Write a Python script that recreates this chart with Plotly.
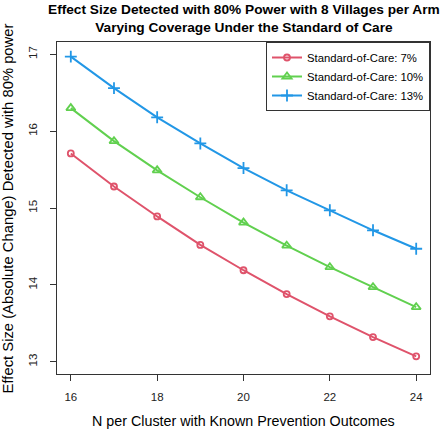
import plotly.graph_objects as go

n_per_cluster = [16, 17, 18, 19, 20, 21, 22, 23, 24]
soc_7 = [15.71, 15.28, 14.89, 14.52, 14.19, 13.88, 13.59, 13.32, 13.07]
soc_10 = [16.30, 15.87, 15.49, 15.14, 14.81, 14.51, 14.23, 13.97, 13.71]
soc_13 = [16.97, 16.56, 16.18, 15.84, 15.52, 15.23, 14.97, 14.71, 14.47]
series_names = ["Standard-of-Care: 7%", "Standard-of-Care: 10%", "Standard-of-Care: 13%"]
x_ticks = [16, 18, 20, 22, 24]
y_ticks = [13, 14, 15, 16, 17]

FONT = "Liberation Sans, Arial, Helvetica, sans-serif"
colors = ["#DF536B", "#61D04F", "#2297E6"]
symbols = ["circle-open", "triangle-up-open", "cross-thin-open"]
sizes = [6, 8, 8.5]

fig = go.Figure()
for vals, name, c, s, sz in zip([soc_7, soc_10, soc_13], series_names, colors, symbols, sizes):
    fig.add_trace(go.Scatter(
        x=n_per_cluster, y=vals, name=name, mode="lines+markers",
        line=dict(color=c, width=2),
        marker=dict(symbol=s, size=sz, color=c, line=dict(color=c, width=1.8)),
    ))

axis_common = dict(
    showline=True, linecolor="#333333", linewidth=1, mirror=True,
    ticks="outside", ticklen=6, tickcolor="#333333", tickwidth=1,
    showgrid=False, zeroline=False,
    tickfont=dict(family=FONT, size=11.5, color="#222222"),
)

fig.update_layout(
    width=440, height=432,
    margin=dict(l=56.7, r=9.5, t=42.3, b=58.3),
    paper_bgcolor="white", plot_bgcolor="white",
    font=dict(family=FONT, color="#000000"),
    xaxis=dict(range=[15.68, 24.32], tickvals=x_ticks, ticklabelstandoff=6, **axis_common),
    yaxis=dict(range=[12.84, 17.16], tickvals=y_ticks, tickangle=-90, ticklabelstandoff=8, **axis_common),
    showlegend=True,
    legend=dict(
        x=1, y=1, xanchor="right", yanchor="top",
        bordercolor="#333333", borderwidth=1, bgcolor="white",
        font=dict(family=FONT, size=11.3, color="#000000"),
        tracegroupgap=0,
    ),
    annotations=[
        dict(text="<b>Effect Size Detected with 80% Power with 8 Villages per Arm<br>Varying Coverage Under the Standard of Care</b>",
             xref="paper", yref="paper", x=0.5, y=1 + (42.3 - 18.5) / 331.4,
             xanchor="center", yanchor="middle", showarrow=False,
             font=dict(family=FONT, size=13.7, color="#000000")),
        dict(text="N per Cluster with Known Prevention Outcomes",
             xref="paper", yref="paper", x=0.5, y=(373.7 - 421) / 331.4,
             xanchor="center", yanchor="middle", showarrow=False,
             font=dict(family=FONT, size=14.3, color="#000000")),
        dict(text="Effect Size (Absolute Change) Detected with 80% power",
             xref="paper", yref="paper", x=(8 - 56.7) / 373.8, y=0.5,
             xanchor="center", yanchor="middle", textangle=-90, showarrow=False,
             font=dict(family=FONT, size=14.8, color="#000000")),
    ],
)

fig.write_html("out.html", config={"displayModeBar": False},
               post_script="document.body.style.margin='0';document.body.style.overflow='hidden';")
